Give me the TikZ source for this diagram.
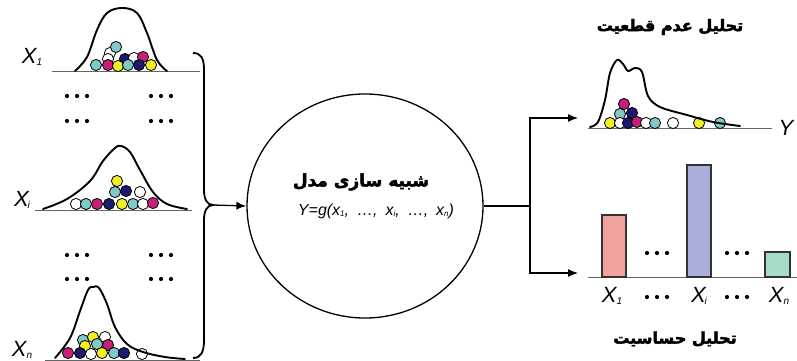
\documentclass[tikz,border=0pt]{standalone}
\usepackage{fontspec}
\TeXXeTstate=1
\newfontfamily\lsans{Liberation Sans}
\newfontfamily\arabicfont[Script=Arabic,FakeBold=2.5]{DejaVu Sans}
\usetikzlibrary{arrows.meta,shapes.geometric}
\definecolor{bteal}{HTML}{80C9C6}
\definecolor{bmag}{HTML}{C81E7C}
\definecolor{bnavy}{HTML}{1C1A6E}
\definecolor{byel}{HTML}{F0EE24}
\definecolor{barone}{HTML}{F2A49C}
\definecolor{bartwo}{HTML}{A9AEDA}
\definecolor{barthree}{HTML}{A6DCC6}
\newcommand{\ballat}[3]{\draw[line width=0.8pt, fill=#3] (#1,#2) circle (5.6);}
\newcommand{\subx}[1]{{\fontsize{10}{10}\selectfont\raisebox{-2.5pt}{#1}}}
\newcommand{\subs}[1]{{\fontsize{8}{8}\selectfont\raisebox{-1.5pt}{#1}}}
\newcommand{\threedots}[2]{\fill (#1-10,#2) circle (2.1) (#1,#2) circle (2.1) (#1+10,#2) circle (2.1);}
\tikzset{
  dist/.style={line width=1.9pt, line join=round, line cap=round},
  base/.style={line width=1pt, draw=black!60},
  conn/.style={line width=1.3pt},
  arr/.style={conn, -{Latex[length=10pt,width=8pt]}},
  barbox/.style={draw=black!80, line width=1.2pt},
  xlab/.style={font=\lsans\itshape\fontsize{22}{22}\selectfont, inner sep=0pt},
  fatitle/.style={font=\arabicfont\bfseries\fontsize{16}{16}\selectfont, inner sep=0pt},
}
\begin{document}
\begin{tikzpicture}[x=1pt,y=-1pt]
\useasboundingbox (0,0) rectangle (797,361);

% ---------- X1 distribution
\draw[base] (52,71) -- (200,71);
\ballat{110}{53}{white}
\ballat{116}{47}{bteal}
\ballat{108}{59}{white}
\ballat{125}{59}{bnavy}
\ballat{134}{58}{white}
\ballat{143}{57}{bmag}
\ballat{96}{65}{bteal}
\ballat{108}{65}{bmag}
\ballat{118}{66}{byel}
\ballat{128}{65}{bteal}
\ballat{139}{65}{bnavy}
\ballat{151}{65}{byel}
\draw[dist] plot[smooth, tension=0.6] coordinates {(75,71) (87,57) (97,30) (107,13) (122,8) (137,13) (147,33) (157,60) (167,71)};
\node[xlab] (x1) at (32,57) {X\subx{1}};

\threedots{77}{96}
\threedots{161}{96}
\threedots{77}{121}
\threedots{161}{121}

% ---------- Xi distribution
\draw[base] (35,210) -- (192,210);
\ballat{117}{181}{byel}
\ballat{115}{192}{bteal}
\ballat{126}{191}{bnavy}
\ballat{140}{192}{white}
\ballat{76}{204}{white}
\ballat{86}{204}{bteal}
\ballat{97}{204}{bmag}
\ballat{109}{204}{bnavy}
\ballat{122}{204}{byel}
\ballat{133}{204}{bteal}
\ballat{143}{204}{white}
\ballat{153}{203}{bmag}
\draw[dist] plot[smooth, tension=0.6] coordinates {(43,209) (67,199) (90,181) (103,161) (115,148) (121,146) (130,152) (140,170) (153,192) (167,204) (187,209)};
\node[xlab] (xi) at (22,200) {X\subx{\kern-1pt\textit{i}}};

\threedots{77}{255}
\threedots{161}{255}
\threedots{77}{279}
\threedots{161}{279}

% ---------- Xn distribution
\draw[base] (45,360) -- (200,360);
\ballat{83}{340}{bteal}
\ballat{93}{337}{byel}
\ballat{105}{337}{white}
\ballat{85}{346}{byel}
\ballat{97}{344}{bteal}
\ballat{108}{345}{bmag}
\ballat{68}{353}{bmag}
\ballat{80}{353}{bnavy}
\ballat{91}{354}{white}
\ballat{102}{353}{byel}
\ballat{114}{353}{bteal}
\ballat{124}{353}{bnavy}
\ballat{142}{354}{white}
\draw[dist] plot[smooth, tension=0.6] coordinates {(55,358) (70,338) (80,311) (88,290) (93,287) (99,288) (107,304) (115,327) (127,344) (143,352) (165,357) (185,359)};
\node[xlab] (xn) at (22,350) {X\subx{\textit{n}}};

% ---------- brace
\coordinate (bt) at (213,205);
\draw[line width=1.8pt] (193,53) .. controls (201,53) and (204,58) .. (204,70)
  -- (204,190) .. controls (204,199) and (207,205) .. (bt)
  .. controls (207,205) and (204,211) .. (204,220)
  -- (204,340) .. controls (204,352) and (201,358) .. (193,358);

% ---------- model circle
\node[draw, ellipse, line width=1.3pt, minimum width=236pt, minimum height=224pt, inner sep=0pt] (model) at (365,206) {};
\node[fatitle, font=\arabicfont\bfseries\fontsize{17}{17}\selectfont] (mtitle) at (361,182) {\beginR شبیه سازی مدل\endR};
\node[font=\lsans\itshape\fontsize{16}{16}\selectfont, inner sep=0pt] (formula) at (376,211)
  {Y=g(x\subs{1},\enspace…,\enspace x\subs{\textit{i}},\enspace…,\enspace x\subs{\textit{n}})};

\draw[arr] (bt) -- (model.west);

% ---------- outputs
\coordinate (j) at (530,206);
\coordinate (jt) at (530,118);
\coordinate (jb) at (530,273);
\coordinate (ut) at (578,118);
\coordinate (ub) at (578,273);
\draw[conn] (model.east) -- (j);
\draw[arr] (j) -- (jt) -- (ut);
\draw[arr] (j) -- (jb) -- (ub);

% ---------- uncertainty
\node[fatitle] (utitle) at (670,27) {\beginR تحلیل عدم قطعیت\endR};
\draw[base] (588,128) -- (772,128);
\ballat{624}{104}{bmag}
\ballat{620}{114}{bteal}
\ballat{632}{113}{bnavy}
\ballat{610}{123}{byel}
\ballat{620}{123}{white}
\ballat{628}{123}{bnavy}
\ballat{637}{122}{bmag}
\ballat{646}{123}{white}
\ballat{655}{123}{bteal}
\ballat{673}{123}{white}
\ballat{699}{123}{byel}
\ballat{720}{123}{bteal}
\draw[dist] plot[smooth, tension=0.55] coordinates {(590,127) (598,122) (605,100) (610,73) (617,60) (623,64) (628,71) (635,68) (642,72) (648,96) (660,107) (687,115) (713,122) (740,126)};
\node[xlab] (ylab) at (786,128) {Y};

% ---------- sensitivity
\draw[base] (588,277) -- (797,277);
\draw[barbox, fill=barone] (602,277) rectangle (626,215);
\draw[barbox, fill=bartwo] (687,277) rectangle (711,165);
\draw[barbox, fill=barthree] (765,277) rectangle (790,252);
\threedots{657}{253}
\threedots{737}{253}
\node[xlab] (b1) at (612,296) {X\subx{1}};
\node[xlab] (bi) at (699,296) {X\subx{\kern-1pt\textit{i}}};
\node[xlab] (bn) at (779,296) {X\subx{\textit{n}}};
\threedots{657}{297}
\threedots{737}{297}
\node[fatitle] (stitle) at (675,339) {\beginR تحلیل حساسیت\endR};
\end{tikzpicture}
\end{document}
